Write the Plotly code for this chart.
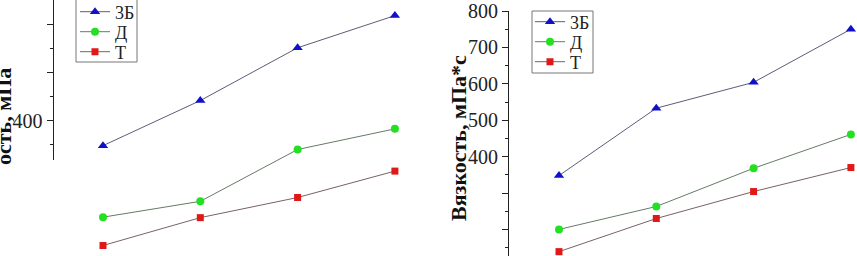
import plotly.graph_objects as go

# ---- data ----
x_vals = [1, 2, 3, 4]
series_names = ["3Б", "Д", "Т"]
left_3B = [348, 442, 552, 619]
left_D = [199, 232, 340, 383]
left_T = [140, 198, 240, 295]
right_3B = [348, 533, 604, 750]
right_D = [200, 263, 368, 461]
right_T = [139, 230, 304, 370]
left_ticks = [400, 500, 600]
left_ticklabels = ["400", "", ""]
right_ticks = [200, 300, 400, 500, 600, 700, 800]
right_ticklabels = ["", "", "400", "500", "600", "700", "800"]
y_title = "Вязкость, мПа*с"
left_title_fragment = "ость, мПа"

W, H = 857, 256
FONT = "Liberation Serif"

styles = [
    dict(symbol="triangle-up", size=9, color="#1010c8", line="#5c5c78"),
    dict(symbol="circle", size=8, color="#22e022", line="#667a66"),
    dict(symbol="square", size=7, color="#e01818", line="#7a6262"),
]

# legend layout (pixels): box and row centres
left_box = dict(x0=76, x1=137, y0=-1, y1=62, rows=[12, 32, 52], lx=75)
right_box = dict(x0=532, x1=593, y0=11, y1=73, rows=[22, 42, 62], lx=530)

fig = go.Figure()
legend_layout = {}
leg_idx = [0]

def add_set(values, xa, ya, box):
    for name, vals, st, row in zip(series_names, values, styles, box["rows"]):
        leg_idx[0] += 1
        key = "legend" if leg_idx[0] == 1 else "legend%d" % leg_idx[0]
        legend_layout[key] = dict(
            x=box["lx"] / W, y=1 - row / H, xanchor="left", yanchor="middle",
            borderwidth=0, bgcolor="rgba(0,0,0,0)", visible=True,
            font=dict(family=FONT, size=18, color="#222"), itemwidth=30)
        fig.add_trace(go.Scatter(
            x=x_vals, y=vals, name=name, mode="lines+markers",
            xaxis=xa, yaxis=ya, legend=key, cliponaxis=False, showlegend=True,
            line=dict(color=st["line"], width=1),
            marker=dict(symbol=st["symbol"], size=st["size"], color=st["color"],
                        line=dict(width=0)),
        ))
    fig.add_shape(type="rect", xref="paper", yref="paper", layer="above",
                  x0=box["x0"] / W, x1=box["x1"] / W,
                  y0=1 - box["y1"] / H, y1=1 - box["y0"] / H,
                  line=dict(color="#777", width=1), fillcolor="white")

add_set([left_3B, left_D, left_T], "x", "y", left_box)
add_set([right_3B, right_D, right_T], "x2", "y2", right_box)

lx0, lx1 = 53.5, 428
rx0, rx1 = 509, 857
px_per_x = 97.3

def xr(p0, p1, first_px):
    return [1 - (first_px - p0) / px_per_x, 1 + (p1 - first_px) / px_per_x]

left_axis_bottom_val = 318
fig.update_layout(
    width=W, height=H, showlegend=True,
    margin=dict(l=0, r=0, t=0, b=0, autoexpand=False),
    paper_bgcolor="white", plot_bgcolor="white",
    font=dict(family=FONT, color="black", size=19),
    xaxis=dict(domain=[lx0 / W, lx1 / W], range=xr(lx0, lx1, 103),
               visible=False, automargin=False),
    yaxis=dict(domain=[0, 1], range=[118.1, 651.5], showline=False,
               automargin=False,
               showgrid=False, zeroline=False, ticks="outside", ticklen=6,
               tickwidth=1, tickcolor="#222",
               tickvals=left_ticks, ticktext=left_ticklabels,
               tickfont=dict(family=FONT, size=20, color="#222"),
               minor=dict(tickvals=[350, 450, 550], ticks="outside",
                          ticklen=3, tickcolor="#222", showgrid=False),
               anchor="x"),
    xaxis2=dict(domain=[rx0 / W, rx1 / W], range=xr(rx0, rx1, 559),
                visible=False, automargin=False),
    yaxis2=dict(domain=[0, 1 - 11 / H], range=[127, 800], showline=True,
                automargin=False,
                linecolor="#222", linewidth=1,
                showgrid=False, zeroline=False, ticks="outside", ticklen=6,
                tickwidth=1, tickcolor="#222",
                tickvals=right_ticks, ticktext=right_ticklabels,
                tickfont=dict(family=FONT, size=20, color="#222"),
                minor=dict(dtick=50, tick0=0, ticks="outside", ticklen=3,
                           tickcolor="#222", showgrid=False),
                anchor="x2"),
    **legend_layout,
)

# left axis line (partial, as in the source)
fig.add_shape(type="line", xref="x domain", yref="y", x0=0, x1=0,
              y0=left_axis_bottom_val, y1=651.5,
              line=dict(color="#222", width=1))

fig.add_annotation(text="<b>" + y_title + "</b>", textangle=-90,
                   xref="paper", yref="paper", x=458 / W, y=1 - 138 / H,
                   xanchor="center", yanchor="middle",
                   showarrow=False, font=dict(family=FONT, size=22, color="#111"))
fig.add_annotation(text="<b>" + left_title_fragment + "</b>", textangle=-90,
                   xref="paper", yref="paper", x=3 / W, y=1 - 117 / H,
                   xanchor="center", yanchor="middle",
                   showarrow=False, font=dict(family=FONT, size=22, color="#111"))

fig.write_html("out.html", config={"displayModeBar": False},
               post_script="document.body.style.margin='0';"
                           "document.body.style.overflow='hidden';")
